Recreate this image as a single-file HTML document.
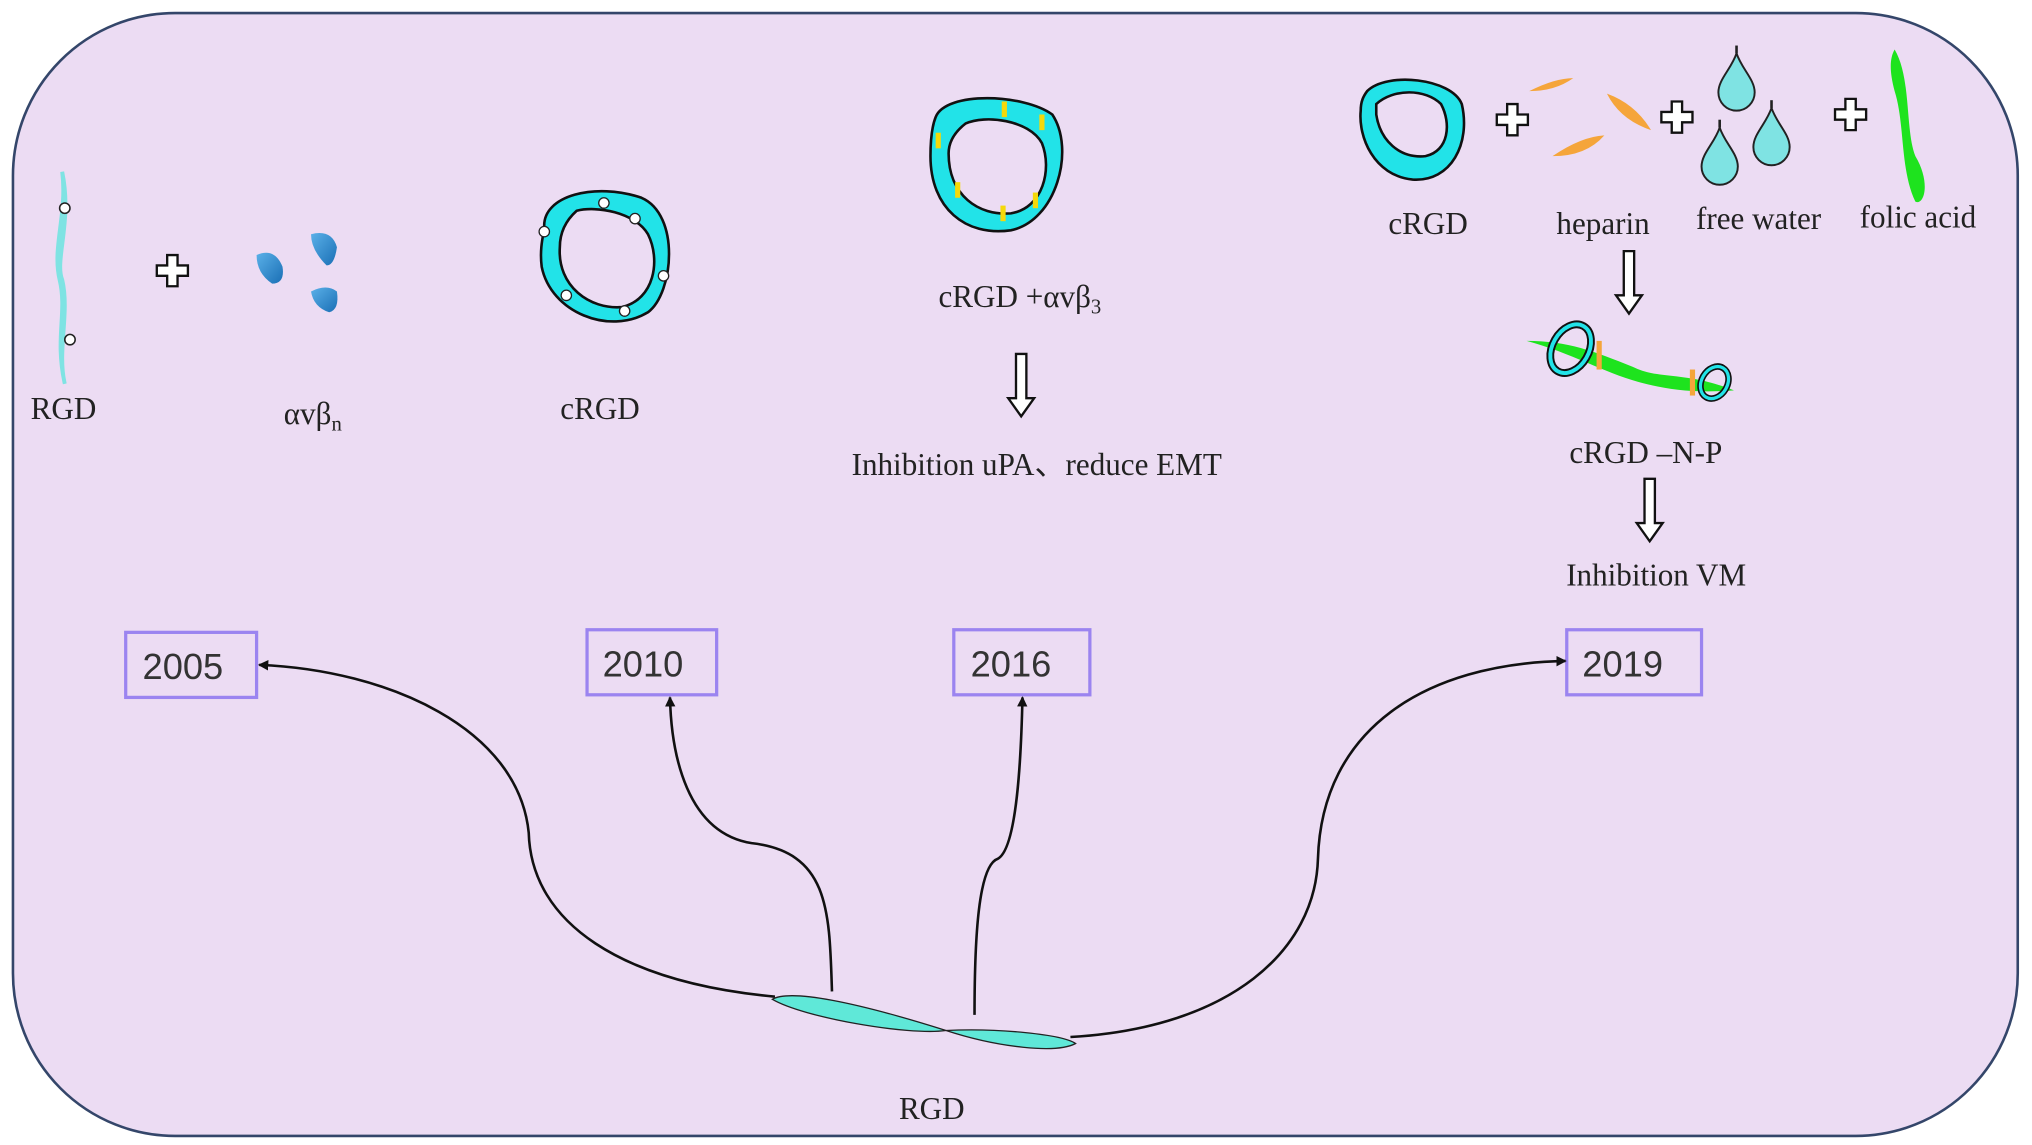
<!DOCTYPE html>
<html><head><meta charset="utf-8"><style>
html,body{margin:0;padding:0;background:#fff;}
svg{display:block;}
text{font-family:"Liberation Serif",serif;fill:#222;}
</style></head><body>
<svg width="2032" height="1145" viewBox="0 0 1568 880" preserveAspectRatio="none" xmlns="http://www.w3.org/2000/svg">
<defs>
<marker id="ar" markerWidth="8" markerHeight="8" refX="7" refY="4" orient="auto" markerUnits="userSpaceOnUse">
<path d="M0,0 L8,4 L0,8 z" fill="#111"/></marker>
<linearGradient id="bl" x1="0" y1="0" x2="1" y2="1"><stop offset="0" stop-color="#5ab0e8"/><stop offset="1" stop-color="#1a6fb5"/></linearGradient>
<g id="plus"><path d="M-4,-12 h8 v8 h8 v8 h-8 v8 h-8 v-8 h-8 v-8 h8 z" fill="#fff" stroke="#111" stroke-width="1.8"/></g>
<g id="drop"><path d="M0,-22 C4,-10 14,-2 14,8 A14,14 0 0 1 -14,8 C-14,-2 -4,-10 0,-22z" fill="#7fe3e3" stroke="#222" stroke-width="1.5"/><path d="M0,-22 v-6" stroke="#222" stroke-width="2"/></g>
<g id="darrow"><path d="M-4,0 h8 v34 h6 l-10,14 l-10,-14 h6 z" fill="#fff" stroke="#111" stroke-width="1.8"/></g>
</defs>
<rect x="10" y="10" width="1547" height="863" rx="125" ry="125" fill="#ecdcf3" stroke="#34466a" stroke-width="2"/>

<path d="M48,132 C56,170 42,200 48,215 C54,240 44,270 50,295 C42,260 52,240 46,215 C40,190 52,165 48,132z" fill="#7fe3e3" stroke="#7fe3e3" stroke-width="3"/>
<circle cx="50" cy="160" r="4" fill="#fff" stroke="#222" stroke-width="1.2"/>
<circle cx="54" cy="261" r="4" fill="#fff" stroke="#222" stroke-width="1.2"/>
<text x="49" y="322" font-size="24" text-anchor="middle">RGD</text>
<use href="#plus" x="133" y="208"/>
<path d="M198,196 Q212,190 218,205 Q220,218 210,218 Q198,210 198,196z" fill="url(#bl)"/>
<path d="M240,180 Q256,176 260,190 Q258,204 252,204 Q240,192 240,180z" fill="url(#bl)"/>
<path d="M240,224 Q252,218 260,224 Q262,238 254,240 Q242,236 240,224z" fill="url(#bl)"/>
<text x="219" y="326" font-size="24">αvβ<tspan font-size="16" dy="5">n</tspan></text>

<g fill="#22e3e8" stroke="#111" stroke-width="2">
<path d="M420,175 C418,150 460,140 495,152 C525,165 520,225 500,240 C470,258 425,240 418,205 C416,190 420,178 420,175z M432,190 C430,220 455,238 480,236 C505,230 510,200 500,180 C490,163 460,158 445,162 C436,170 432,180 432,190z" fill-rule="evenodd"/>
</g>
<circle cx="420" cy="178" r="4" fill="#fff" stroke="#222"/><circle cx="466" cy="156" r="4" fill="#fff" stroke="#222"/><circle cx="490" cy="168" r="4" fill="#fff" stroke="#222"/>
<circle cx="512" cy="212" r="4" fill="#fff" stroke="#222"/><circle cx="482" cy="239" r="4" fill="#fff" stroke="#222"/><circle cx="437" cy="227" r="4" fill="#fff" stroke="#222"/>
<text x="463" y="322" font-size="24" text-anchor="middle">cRGD</text>

<path d="M722,90 C730,70 790,72 812,88 C830,115 815,170 780,177 C745,182 718,160 718,120 C718,105 720,95 722,90z M732,118 C732,150 755,166 780,164 C805,160 812,130 804,110 C794,92 760,88 745,95 C736,102 732,110 732,118z" fill="#22e3e8" stroke="#111" stroke-width="2" fill-rule="evenodd"/>
<g fill="#f5d90a"><rect x="773" y="78" width="4" height="12"/><rect x="802" y="88" width="4" height="12"/><rect x="722" y="102" width="4" height="12"/><rect x="737" y="140" width="4" height="12"/><rect x="772" y="158" width="4" height="12"/><rect x="797" y="148" width="4" height="12"/></g>
<text x="787" y="236" font-size="24" text-anchor="middle">cRGD +αvβ<tspan font-size="16" dy="5">3</tspan></text>
<use href="#darrow" x="788" y="272"/>
<text x="800" y="365" font-size="24" text-anchor="middle">Inhibition uPA、reduce EMT</text>

<path d="M1055,70 C1070,55 1120,60 1128,80 C1135,110 1120,140 1090,138 C1060,135 1048,105 1050,85 C1050,78 1052,74 1055,70z M1062,88 C1065,108 1080,122 1100,120 C1118,116 1120,95 1112,80 C1100,68 1075,68 1062,80z" fill="#22e3e8" stroke="#111" stroke-width="2" fill-rule="evenodd"/>
<text x="1102" y="180" font-size="24" text-anchor="middle">cRGD</text>
<use href="#plus" x="1167" y="92"/>
<path d="M1180,70 Q1200,60 1214,60 Q1200,70 1180,70z" fill="#f5a53a"/>
<path d="M1240,72 Q1262,80 1274,100 Q1250,92 1240,72z" fill="#f5a53a"/>
<path d="M1198,120 Q1220,105 1238,104 Q1224,120 1198,120z" fill="#f5a53a"/>
<text x="1237" y="180" font-size="24" text-anchor="middle">heparin</text>
<use href="#plus" x="1294" y="90"/>
<use href="#drop" x="1340" y="63"/><use href="#drop" x="1327" y="120"/><use href="#drop" x="1367" y="105"/>
<text x="1357" y="176" font-size="24" text-anchor="middle">free water</text>
<use href="#plus" x="1428" y="88"/>
<path d="M1462,38 C1475,60 1470,100 1478,120 C1490,140 1485,158 1478,155 C1466,130 1470,95 1462,70 C1458,55 1458,45 1462,38z" fill="#1ee31e"/>
<text x="1480" y="175" font-size="24" text-anchor="middle">folic acid</text>
<use href="#darrow" x="1257" y="193"/>
<path d="M1178,262 C1210,262 1230,270 1260,282 C1280,292 1300,285 1338,300 C1310,302 1290,300 1270,295 C1240,288 1215,272 1178,262z" fill="#1ee31e"/>
<ellipse cx="1212" cy="268" rx="14" ry="20" transform="rotate(30 1212 268)" fill="none" stroke="#111" stroke-width="6"/>
<ellipse cx="1212" cy="268" rx="14" ry="20" transform="rotate(30 1212 268)" fill="none" stroke="#22e3e8" stroke-width="3"/>
<ellipse cx="1323" cy="294" rx="10" ry="13" transform="rotate(30 1323 294)" fill="none" stroke="#111" stroke-width="5"/>
<ellipse cx="1323" cy="294" rx="10" ry="13" transform="rotate(30 1323 294)" fill="none" stroke="#22e3e8" stroke-width="2.5"/>
<rect x="1232" y="262" width="4" height="22" fill="#f5a53a"/><rect x="1304" y="284" width="4" height="20" fill="#f5a53a"/>
<text x="1270" y="356" font-size="24" text-anchor="middle">cRGD –N-P</text>
<use href="#darrow" x="1273" y="368"/>
<text x="1278" y="450" font-size="24" text-anchor="middle">Inhibition VM</text>

<g fill="none" stroke="#9b84f0" stroke-width="2.5">
<rect x="97" y="486" width="101" height="50"/><rect x="453" y="484" width="100" height="50"/>
<rect x="736" y="484" width="105" height="50"/><rect x="1209" y="484" width="104" height="50"/></g>
<g font-size="28">
<text x="110" y="522" style="font-family:'Liberation Sans',sans-serif;fill:#333">2005</text>
<text x="465" y="520" style="font-family:'Liberation Sans',sans-serif;fill:#333">2010</text>
<text x="749" y="520" style="font-family:'Liberation Sans',sans-serif;fill:#333">2016</text>
<text x="1221" y="520" style="font-family:'Liberation Sans',sans-serif;fill:#333">2019</text></g>

<g fill="none" stroke="#111" stroke-width="2">
<path d="M598,766 C480,755 410,710 408,640 C400,560 300,515 200,511" marker-end="url(#ar)"/>
<path d="M642,762 C640,700 640,655 580,648 C530,640 518,580 517,536" marker-end="url(#ar)"/>
<path d="M752,780 C752,720 755,665 770,660 C785,652 788,580 789,536" marker-end="url(#ar)"/>
<path d="M826,797 C950,790 1015,730 1017,660 C1020,560 1100,510 1208,508" marker-end="url(#ar)"/>
</g>
<path d="M596,768 C610,760 660,770 730,792 C700,796 620,782 596,768z" fill="#5fe8d8" stroke="#222" stroke-width="1"/>
<path d="M730,792 C770,790 820,795 830,802 C815,810 770,805 730,792z" fill="#5fe8d8" stroke="#222" stroke-width="1"/>
<text x="719" y="860" font-size="24" text-anchor="middle">RGD</text>
</svg>
</body></html>
